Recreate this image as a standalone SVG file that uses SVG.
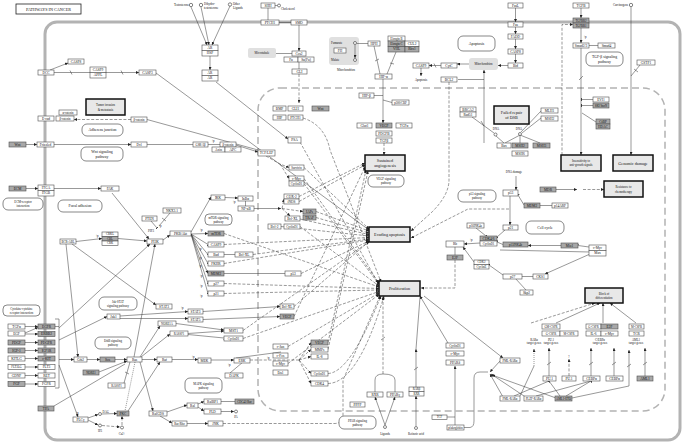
<svg xmlns="http://www.w3.org/2000/svg" width="685" height="444" viewBox="0 0 685 444">
<defs>
<style>
.b{fill:#fff;stroke:#4d4d4d;stroke-width:.6}
.d{fill:#a8a8a8;stroke:#4d4d4d;stroke-width:.6}
.pw{fill:#fff;stroke:#555;stroke-width:.7}
.ph{fill:#e8e8e8;stroke:#111;stroke-width:1.5}
.gy{fill:#e0e0e0;stroke:none}
.c{fill:#fff;stroke:#333;stroke-width:.6}
text{font-family:"Liberation Serif","Times New Roman",serif;fill:#111;text-anchor:middle;dominant-baseline:central}
.t{font-size:3.5px}
.s{font-size:3px}
.w{font-size:3.8px}
.p{font-size:4.2px}
.ls{text-anchor:start}
.le{text-anchor:end}
#edges path{fill:none;stroke:#333;stroke-width:.5}
#edges .ds{stroke-dasharray:3,1.6}
#edges .dt{stroke-dasharray:1,1}
</style>
<marker id="a" viewBox="0 0 6 6" refX="6" refY="3" markerWidth="3" markerHeight="3" markerUnits="userSpaceOnUse" orient="auto"><path d="M0,0L6,3L0,6z" fill="#222"/></marker>
<marker id="i" viewBox="0 0 2 8" refX="1" refY="4" markerWidth="0.8" markerHeight="3.5" markerUnits="userSpaceOnUse" orient="auto"><rect width="2" height="8" fill="#222"/></marker>
</defs>
<rect width="685" height="444" fill="#fff"/>
<rect x="45" y="22" width="635" height="418" rx="12" fill="none" stroke="#b3b3b3" stroke-width="3"/>
<rect x="258" y="88" width="407" height="323" rx="22" fill="none" stroke="#b3b3b3" stroke-width="1.5" stroke-dasharray="7,4"/>
<rect x="329" y="37" width="30" height="28" rx="3" class="gy"/>
<rect x="248" y="48" width="28" height="10" rx="2" class="gy"/>
<rect x="469" y="58" width="29" height="12" rx="3" class="gy"/>

<g id="edges">
<path d="M191,7L207,45" marker-end="url(#a)"/>
<path d="M201,7L209,45" marker-end="url(#a)"/>
<path d="M230,6L212,45" marker-end="url(#a)"/>
<path d="M210,56V70" marker-end="url(#a)"/>
<path d="M216,82L288,139" marker-end="url(#a)"/>
<path d="M268,8V20" marker-end="url(#i)"/>
<path d="M275,5.5H277.5"/>
<path d="M279,22.5H291" marker-end="url(#i)"/>
<path d="M299,25V51" marker-end="url(#a)"/>
<path d="M276,53.5H292" marker-end="url(#i)"/>
<path d="M299,62V69" marker-end="url(#i)"/>
<path class="ds" d="M299,74V103" marker-end="url(#a)"/>
<path d="M355,45V58" marker-end="url(#a)"/>
<path d="M357,43.5H368" marker-end="url(#i)"/>
<path d="M374,46L380,74"/><path d="M375,61L379,59"/>
<path d="M396,52L387,74"/><path d="M390,63L394,64"/>
<path d="M383,79V123" marker-end="url(#a)"/>
<path d="M374,95.5H383"/>
<path d="M392,102.5L383,100"/>
<path d="M421,68V76" marker-end="url(#a)"/>
<path d="M441,65.5H429" marker-end="url(#a)"/><path d="M434,63.5L436,67.5"/>
<path d="M469,64H457" marker-end="url(#a)"/>
<path d="M508,65.5H498" marker-end="url(#a)"/>
<path d="M484,79.5H458" marker-end="url(#i)"/>
<path d="M484,143V70" marker-end="url(#a)"/>
<path d="M515.5,8V22" marker-end="url(#a)"/>
<path d="M515.5,27V34" marker-end="url(#a)"/>
<path d="M515.5,39V49" marker-end="url(#a)"/>
<path d="M515.5,54V63" marker-end="url(#a)"/>
<path d="M581,8V18" marker-end="url(#a)"/>
<path d="M581,28V43" marker-end="url(#a)"/>
<path d="M598,45.5H589"/>
<path d="M581,48V155" marker-end="url(#a)"/><path d="M579,80L583,76"/>
<path d="M593,99.5H581.5" marker-end="url(#i)"/>
<path d="M593,105.5H581.5" marker-end="url(#i)"/>
<path d="M596,122L582,113"/>
<path d="M631,7V155" marker-end="url(#a)"/>
<path d="M640,65L631,76"/><path d="M634,69L638,72"/>
<path class="ds" d="M562,155V24.5H573" marker-end="url(#a)"/>
<path d="M50,70L68,63" marker-end="url(#a)"/>
<path d="M54,72.5H90"/><path d="M70,70.5L72,74.5"/><path d="M121,70.5L123,74.5"/>
<path d="M106,72.5H139" marker-end="url(#a)"/>
<path d="M156,73L369,230" marker-end="url(#a)"/>
<path d="M26,144.5H37" marker-end="url(#a)"/>
<path d="M54,144.5H131" marker-end="url(#a)"/>
<path d="M147,144.5H193" marker-end="url(#i)"/>
<path d="M208,144.5H220" marker-end="url(#i)"/>
<path d="M236,145L258,152" marker-end="url(#a)"/>
<path class="ds" d="M131,119.5H74" marker-end="url(#a)"/>
<path d="M147,119.5L258,150"/>
<path d="M26,188.5H38" marker-end="url(#a)"/>
<path d="M54,188.5H101" marker-end="url(#a)"/>
<path d="M112,193L149,239" marker-end="url(#a)"/>
<path d="M151,221L157,228" marker-end="url(#i)"/>
<path d="M170,213L159,226"/><path d="M162,218L166,221"/>
<path d="M163,240L170,235" marker-end="url(#a)"/>
<path d="M76,241.5L102,238.5" marker-end="url(#a)"/>
<path d="M118,238.5L147,241" marker-end="url(#a)"/>
<path d="M66,244L78,357" marker-end="url(#a)"/>
<path d="M72,244L156,305" marker-end="url(#a)"/>
<path d="M59,328L150,244" marker-end="url(#a)"/>
<path d="M134,357L155,244" marker-end="url(#a)"/>
<path d="M191,232L211,197" marker-end="url(#a)"/>
<path d="M225,197.5L238,198" marker-end="url(#a)"/>
<path d="M245.5,201V206" marker-end="url(#i)"/>
<path d="M254,208.5H281" marker-end="url(#a)"/>
<path d="M191,234L208,233.5" marker-end="url(#a)"/>
<path d="M191,234L208,244.5" marker-end="url(#i)"/>
<path d="M191,234L208,254.5" marker-end="url(#i)"/>
<path d="M191,234L208,263.5" marker-end="url(#i)"/>
<path d="M191,234L208,273.5" marker-end="url(#a)"/>
<path d="M191,234L208,283.5" marker-end="url(#i)"/>
<path d="M191,234L208,293.5" marker-end="url(#i)"/>
<path d="M224,254.5H235" marker-end="url(#i)"/>
<path d="M224,273.5H285" marker-end="url(#i)"/>
<path class="ds" d="M266,156L280,164L289,167.5" marker-end="url(#a)"/>
<path class="ds" d="M280,164L289,178.5" marker-end="url(#a)"/>
<path class="ds" d="M282,208.5L303,211.5" marker-end="url(#a)"/>
<path class="ds" d="M282,208.5L284,199" marker-end="url(#a)"/>
<path class="ds" d="M282,208.5L290,216" marker-end="url(#a)"/>
<path class="ds" d="M304,167.5L369,229" marker-end="url(#a)"/>
<path class="ds" d="M316,211.5L369,231" marker-end="url(#a)"/>
<path class="ds" d="M316,217.5L369,233" marker-end="url(#a)"/>
<path class="ds" d="M300,219L369,234.5" marker-end="url(#a)"/>
<path class="ds" d="M281,226.5L369,236" marker-end="url(#a)"/>
<path class="ds" d="M224,244.5L369,237.5" marker-end="url(#a)"/>
<path class="ds" d="M253,254.5L369,239" marker-end="url(#a)"/>
<path class="ds" d="M224,263.5L369,240" marker-end="url(#a)"/>
<path class="ds" d="M301,273.5L369,241" marker-end="url(#a)"/>
<path class="ds" d="M294,306.5L369,241.5" marker-end="url(#a)"/>
<path class="ds" d="M243,330.5L369,241.8" marker-end="url(#a)"/>
<path class="ds" d="M304,178.5L379,283" marker-end="url(#a)"/>
<path class="ds" d="M304,183.5L379,284.5" marker-end="url(#a)"/>
<path class="ds" d="M300,226.5L379,286" marker-end="url(#a)"/>
<path class="ds" d="M224,233.5L379,287" marker-end="url(#a)"/>
<path class="ds" d="M224,283.5L379,288.5" marker-end="url(#a)"/>
<path class="ds" d="M224,293.5L379,290" marker-end="url(#a)"/>
<path class="ds" d="M243,338.5L379,291.5" marker-end="url(#a)"/>
<path class="ds" d="M288,346.5L379,293" marker-end="url(#a)"/>
<path class="ds" d="M288,363.5L379,294.5" marker-end="url(#a)"/>
<path class="ds" d="M328,373.5Q350,373 381,296" marker-end="url(#a)"/>
<path class="ds" d="M328,383.5Q358,383 384,296" marker-end="url(#a)"/>
<path class="ds" d="M299,196.5L365,163" marker-end="url(#a)"/>
<path class="ds" d="M299,201.5L365,165" marker-end="url(#a)"/>
<path class="ds" d="M294,316.5L365,167" marker-end="url(#a)"/>
<path class="ds" d="M328,342.5L366,170" marker-end="url(#a)"/>
<path class="ds" d="M328,349.5L368,171" marker-end="url(#a)"/>
<path class="ds" d="M303,118Q325,125 330,150L381,282" marker-end="url(#a)"/>
<path class="ds" d="M300,142L378,283" marker-end="url(#a)"/>
<path class="ds" d="M384,143V155" marker-end="url(#a)"/>
<path class="ds" d="M449,82V180Q449,195 432,212L411,231" marker-end="url(#a)"/>
<path class="ds" d="M509,209H468L411,238" marker-end="url(#a)"/>
<path d="M472,117L494,133"/><path d="M481,121L484,126"/>
<path d="M520,135L505,143"/><path d="M520,135V143"/><path d="M520,135L540,143"/>
<path d="M541,111L521,132"/><path d="M541,118L522,133"/>
<path d="M496,136L504,143"/>
<path d="M516,176V190" marker-end="url(#a)"/>
<path d="M510,196V225" marker-end="url(#a)"/>
<path d="M552,205.5H540" marker-end="url(#i)"/>
<path d="M524,205L518,195" marker-end="url(#i)"/>
<path d="M556,189.5H577" marker-end="url(#a)"/>
<path class="ds" d="M583,189.5H604" marker-end="url(#a)"/>
<path d="M476,228L486,236" marker-end="url(#i)"/>
<path d="M505,230L497,237" marker-end="url(#i)"/>
<path d="M503,244.5L497,242" marker-end="url(#i)"/>
<path d="M480,243L464,244" marker-end="url(#a)"/>
<path d="M455,247V255" marker-end="url(#i)"/>
<path class="ds" d="M455,260V288H421" marker-end="url(#a)"/>
<path d="M474,262L463,247" marker-end="url(#a)"/>
<path d="M503,275L489,265" marker-end="url(#i)"/>
<path d="M533,276.5H522" marker-end="url(#i)"/>
<path d="M526,290L515,278" marker-end="url(#i)"/>
<path d="M561,245.5H528" marker-end="url(#a)"/>
<path d="M589,247L578,245.5" marker-end="url(#i)"/>
<path d="M590,254L545,274" marker-end="url(#a)"/>
<path d="M590,252L500,250"/>
<path class="ds" d="M531,323L595,303" marker-end="url(#a)"/>
<path d="M556,323L600,303" marker-end="url(#a)"/>
<path d="M603,323V303" marker-end="url(#a)"/>
<path d="M636,323L610,303" marker-end="url(#a)"/>
<path class="dt" d="M534,366V349" marker-end="url(#a)"/>
<path d="M549,376V348" marker-end="url(#a)"/><path d="M547,365L551,362"/>
<path class="ds" d="M569,376V359" marker-end="url(#a)"/>
<path d="M591,376V348" marker-end="url(#a)"/><path d="M589,365L593,362"/>
<path d="M614,376V348" marker-end="url(#a)"/><path d="M612,365L616,362"/>
<path d="M645,376V348" marker-end="url(#a)"/><path d="M643,365L647,362"/>
<path d="M572,398L629,386V350" marker-end="url(#a)"/><path d="M627,367L631,364"/>
<path d="M560,396L549,381" marker-end="url(#i)"/>
<path d="M566,396L591,381" marker-end="url(#i)"/>
<path d="M514,396L549,381" marker-end="url(#i)"/>
<path d="M536,396L591,381" marker-end="url(#i)"/>
<path d="M520,396L534,366"/>
<path d="M500,361L490,372" marker-end="url(#a)"/>
<path d="M503,397L490,374" marker-end="url(#a)"/>
<path d="M527,398L491,374" marker-end="url(#a)"/>
<path d="M556,398L492,375" marker-end="url(#a)"/>
<path d="M464,427.5H470Q474,427 474,421V378Q474,372 480,372H488"/>
<path d="M447,417H455"/>
<path d="M455,425V366" marker-end="url(#a)"/>
<path d="M448,343L420,296" marker-end="url(#a)"/>
<path d="M424,296L503,358" marker-end="url(#a)"/>
<path d="M385,425L375,397" marker-end="url(#a)"/>
<path d="M385,425L395,397" marker-end="url(#a)"/>
<path d="M375,392V380Q375,374 383,374Q395,374 395,380V392"/>
<path class="ds" d="M383,374V297" marker-end="url(#a)"/><path d="M381,340L385,337"/>
<path d="M416,426V396" marker-end="url(#a)"/>
<path d="M416,387V349" marker-end="url(#a)"/><path d="M414,370L418,367"/>
<path d="M416,349L420,297"/>
<path d="M59,326.5H55"/>
<path d="M25,326.5H38" marker-end="url(#a)"/>
<path d="M25,333L38,327.5" marker-end="url(#a)"/>
<path d="M25,334H38" marker-end="url(#a)"/>
<path d="M25,342.5H38" marker-end="url(#a)"/>
<path d="M25,350.5H38" marker-end="url(#a)"/>
<path d="M25,358.5H38" marker-end="url(#a)"/>
<path d="M25,367H38" marker-end="url(#a)"/>
<path d="M25,375.5H38" marker-end="url(#a)"/>
<path d="M25,384H38" marker-end="url(#a)"/>
<path d="M55,319H59V388H55" style="stroke:#555;stroke-width:.6"/>
<path d="M59,340L107,316.5" marker-end="url(#a)"/>
<path d="M120,318.5H188" marker-end="url(#a)"/>
<path d="M120,316L188,311.5" marker-end="url(#a)"/>
<path d="M203,311.5L280,306.5" marker-end="url(#a)"/>
<path d="M203,319.5L280,316.5" marker-end="url(#a)"/>
<path d="M59,359.5H74" marker-end="url(#a)"/>
<path d="M87,359.5H100" marker-end="url(#a)"/>
<path d="M115,359.5H127" marker-end="url(#a)"/>
<path d="M99,372L127,361" marker-end="url(#a)"/>
<path d="M142,359.5H157" marker-end="url(#a)"/>
<path d="M172,359.5H198" marker-end="url(#a)"/>
<path d="M211,360H234" marker-end="url(#a)"/>
<path class="ds" d="M250,360H299"/>
<path class="ds" d="M299,360L311,342.5" marker-end="url(#a)"/>
<path class="ds" d="M299,360L311,349.5" marker-end="url(#a)"/>
<path class="ds" d="M299,360L311,356.5" marker-end="url(#a)"/>
<path class="ds" d="M299,360L311,373.5" marker-end="url(#a)"/>
<path class="ds" d="M299,360L311,383.5" marker-end="url(#a)"/>
<path d="M236,358L281,352"/>
<path d="M230,373L243,362"/>
<path d="M140,357L160,326" marker-end="url(#a)"/>
<path d="M141,357L170,334" marker-end="url(#a)"/>
<path d="M176,323.5L224,330" marker-end="url(#a)"/>
<path d="M188,333.5L224,331" marker-end="url(#a)"/>
<path d="M188,334.5L224,338" marker-end="url(#i)"/>
<path d="M130,362L124,383"/><path d="M125,372L129,374"/>
<path d="M140,362L153,411" marker-end="url(#a)"/>
<path d="M167,412L187,405" marker-end="url(#a)"/>
<path d="M160,416L172,423" marker-end="url(#a)"/>
<path d="M198,404L204,401.5" marker-end="url(#a)"/>
<path d="M221,401.5H235" marker-end="url(#i)"/>
<path d="M198,407L204,411" marker-end="url(#a)"/>
<path d="M221,411.5L234,411.5" marker-end="url(#a)"/>
<path d="M187,423.5H208" marker-end="url(#a)"/>
<path class="ds" d="M223,423.5H335Q343,423 343,415V380L380,296" marker-end="url(#a)"/>
<path d="M59,365L78,417" marker-end="url(#a)"/>
<path d="M88,418L98,414.5" marker-end="url(#a)"/>
<path d="M88,420L98,425" marker-end="url(#a)"/>
<path d="M102,414L117,413.5" marker-end="url(#a)"/>
<path class="ds" d="M102,425.5L120,427" marker-end="url(#a)"/>
<path class="ds" d="M122,425V416" marker-end="url(#a)"/>
<path d="M128,411L160,362" marker-end="url(#a)"/>
<path class="dt" d="M135,362L125,411"/>
<path d="M54,406L125,364"/>
</g>

<g id="title"><rect x="16" y="4" width="65" height="10" fill="#fff" stroke="#222" stroke-width=".8"/><text class="p" x="48.5" y="9">PATHWAYS IN CANCER</text></g>

<g id="testosterone"><circle class="c" cx="191" cy="5" r="1.7"/><text class="s le" x="189" y="5">Testosterone</text></g>
<g id="dht"><circle class="c" cx="201" cy="5" r="1.7"/><text class="s ls" x="204" y="4">Dihydro-</text><text class="s ls" x="204" y="8">testosterone</text></g>
<g id="otherlig"><circle class="c" cx="230" cy="4.5" r="1.7"/><text class="s ls" x="233" y="4">Other</text><text class="s ls" x="233" y="8">Ligands</text></g>
<g id="ar_hsp"><rect class="b" x="202" y="45" width="16" height="5.5"/><rect class="b" x="202" y="50.5" width="16" height="5.5"/><text class="t" x="210" y="47.8">AR</text><text class="t" x="210" y="53.3">HSP</text></g>
<g id="ar_ar"><rect class="b" x="202" y="70" width="16" height="5.5"/><rect class="b" x="202" y="75.5" width="16" height="5.5"/><text class="t" x="210" y="72.8">AR</text><text class="t" x="210" y="78.3">AR</text></g>
<g id="psa"><rect class="b" x="288" y="137" width="13" height="6"/><text class="t" x="294.5" y="140">PSA</text></g>
<g id="shh"><rect class="b" x="261" y="3" width="14" height="5"/><text class="t" x="268" y="5.5">SHH</text></g>
<g id="cholesterol"><circle class="c" cx="279" cy="5.5" r="1.5"/><text class="s ls" x="281" y="8.5">Cholesterol</text></g>
<g id="ptch1"><rect class="b" x="261" y="20" width="18" height="5"/><text class="t" x="270" y="22.5">PTCH1</text></g>
<g id="smo"><rect class="b" x="291" y="20" width="16" height="5"/><text class="t" x="299" y="22.5">SMO</text></g>
<g id="microtubule"><text class="s" x="262" y="53">Microtubule</text></g>
<g id="cos2"><rect class="b" x="292" y="51" width="14" height="5"/><text class="t" x="299" y="53.5">Cos2</text></g>
<g id="fu"><rect class="b" x="284" y="57" width="14" height="5"/><text class="t" x="291" y="59.5">Fu</text><rect class="b" x="298" y="57" width="16" height="5"/><text class="t" x="306" y="59.5">Su(Fu)</text></g>
<g id="gli"><rect class="b" x="292" y="69" width="15" height="5"/><text class="t" x="299.5" y="71.5">GLI</text></g>
<g id="gli_targets"><rect class="b" x="273" y="106" width="13" height="5"/><text class="t" x="279.5" y="108.5">BMP</text><rect class="b" x="288" y="106" width="15" height="5"/><text class="t" x="295.5" y="108.5">GLI1</text><rect class="d" x="312" y="106" width="17" height="5"/><text class="t" x="320.5" y="108.5">Wnt</text><rect class="b" x="273" y="115" width="13" height="5"/><text class="t" x="279.5" y="117.5">HIP</text><rect class="b" x="288" y="115" width="15" height="5"/><text class="t" x="295.5" y="117.5">PTCH1</text></g>
<g id="fumarate"><circle class="c" cx="355" cy="43" r="1.5"/><text class="s ls" x="331" y="43">Fumarate</text><rect class="b" x="334" y="48" width="12" height="5"/><text class="t" x="340" y="50.5">FH</text><circle class="c" cx="355" cy="60" r="1.5"/><text class="s ls" x="331" y="60">Malate</text><text class="s" x="346" y="70">Mitochondrion</text></g>
<g id="hph"><rect class="b" x="368" y="41" width="12" height="5"/><text class="t" x="374" y="43.5">HPH</text></g>
<g id="vhl"><rect class="b" x="388" y="36" width="17" height="5"/><text class="s" x="396.5" y="38.5">Elongin B</text><rect class="d" x="388" y="41" width="17" height="5.5"/><text class="s" x="396.5" y="43.7">Elongin C</text><rect class="d" x="388" y="46.5" width="17" height="5.5"/><text class="t" x="396.5" y="49.2">VHL</text><rect class="b" x="405" y="41" width="14" height="5.5"/><text class="t" x="412" y="43.7">CUL2</text><rect class="d" x="405" y="46.5" width="14" height="5.5"/><text class="t" x="412" y="49.2">Rbx1</text></g>
<g id="hifa"><rect class="b" x="375" y="74" width="17" height="5"/><text class="t" x="383.5" y="76.5">HIF-α</text></g>
<g id="hifb"><rect class="b" x="359" y="93" width="15" height="5"/><text class="t" x="366.5" y="95.5">HIF-β</text></g>
<g id="p300"><rect class="b" x="392" y="100" width="17" height="5"/><text class="s" x="400.5" y="102.5">p300/CBP</text></g>
<g id="hif_targets"><rect class="b" x="357" y="123" width="15" height="5"/><text class="t" x="364.5" y="125.5">Glut1</text><rect class="d" x="376" y="123" width="16" height="5"/><text class="t" x="384" y="125.5">VEGF</text><rect class="b" x="396" y="123" width="16" height="5"/><text class="t" x="404" y="125.5">TGFα</text><rect class="b" x="376" y="131" width="16" height="5"/><text class="t" x="384" y="133.5">PDGFB</text><rect class="b" x="376" y="138" width="16" height="5"/><text class="t" x="384" y="140.5">TGFβ</text></g>
<g id="casp9_m"><rect class="b" x="413" y="63" width="16" height="5"/><text class="t" x="421" y="65.5">CASP9</text><text class="s" x="421" y="80">Apoptosis</text></g>
<g id="cytc"><rect class="b" x="441" y="63" width="16" height="5"/><text class="t" x="449" y="65.5">CytC</text></g>
<g id="mito"><text class="s" x="483.5" y="64">Mitochondrion</text></g>
<g id="apoptosis_pw"><rect class="pw" x="458" y="36" width="37" height="15" rx="5"/><text class="w" x="476.5" y="43.5">Apoptosis</text></g>
<g id="bcl2"><rect class="b" x="441" y="77" width="16" height="5"/><text class="t" x="449" y="79.5">BCL2</text></g>
<g id="fas_path"><rect class="b" x="508" y="3" width="15" height="5"/><text class="t" x="515.5" y="5.5">FasL</text><rect class="b" x="508" y="22" width="15" height="5"/><text class="t" x="515.5" y="24.5">Fas</text><rect class="b" x="508" y="34" width="15" height="5"/><text class="t" x="515.5" y="36.5">FADD</text><rect class="b" x="508" y="49" width="15" height="5"/><text class="t" x="515.5" y="51.5">CASP8</text><rect class="b" x="508" y="63" width="15" height="5"/><text class="t" x="515.5" y="65.5">Bid</text></g>
<g id="tgfb"><rect class="b" x="573" y="3" width="16" height="5"/><text class="t" x="581" y="5.5">TGFB</text><rect class="d" x="573" y="18" width="16" height="5"/><text class="s" x="581" y="20.5">TGFBR2</text><rect class="d" x="573" y="23" width="16" height="5"/><text class="s" x="581" y="25.5">TGFBR1</text><text class="s" x="585" y="37">+p</text></g>
<g id="smad"><rect class="b" x="573" y="43" width="16" height="5"/><text class="t" x="581" y="45.5">Smad2/3</text><rect class="b" x="598" y="43" width="17" height="5"/><text class="t" x="606.5" y="45.5">Smad4</text></g>
<g id="tgf_pw"><rect class="pw" x="586" y="52" width="37" height="14" rx="5"/><text class="w" x="604.5" y="57">TGF-β signaling</text><text class="w" x="604.5" y="61.5">pathway</text></g>
<g id="evi1"><rect class="b" x="593" y="97" width="16" height="5"/><text class="t" x="601" y="99.5">EVI1</text><rect class="d" x="593" y="103" width="16" height="5"/><text class="s" x="601" y="105.5">SKI/SnoN</text></g>
<g id="ctbp"><rect class="d" x="596" y="119" width="14" height="5"/><text class="t" x="603" y="121.5">CtBP</text><rect class="d" x="596" y="124" width="14" height="5"/><text class="t" x="603" y="126.5">HDAC</text></g>
<g id="carcinogens"><circle class="c" cx="631" cy="5" r="1.7"/><text class="s le" x="628" y="5">Carcinogens</text></g>
<g id="gstp1"><rect class="b" x="637" y="60" width="18" height="5"/><text class="t" x="646" y="62.5">GSTP1</text></g>
<g id="dcc"><rect class="b" x="38" y="70" width="16" height="5"/><text class="t" x="46" y="72.5">DCC</text></g>
<g id="casp8_l"><rect class="b" x="68" y="59" width="16" height="5"/><text class="t" x="76" y="61.5">CASP8</text></g>
<g id="casp9_appl"><rect class="b" x="90" y="67" width="16" height="5.5"/><text class="t" x="98" y="69.8">CASP9</text><rect class="b" x="90" y="72.5" width="16" height="5.5"/><text class="t" x="98" y="75.3">APPL</text></g>
<g id="casp3"><rect class="b" x="139" y="70" width="17" height="5"/><text class="t" x="147.5" y="72.5">CASP3</text></g>
<g id="tumor_inv"><rect class="ph" x="86" y="99" width="39" height="16"/><text class="s" x="105.5" y="105">Tumor invasion</text><text class="s" x="105.5" y="109.5">&amp; metastasis</text></g>
<g id="ecad"><rect class="b" x="38" y="116" width="16" height="5"/><text class="t" x="46" y="118.5">E-cad</text><rect class="b" x="59" y="110" width="18" height="5"/><text class="s" x="68" y="112.5">α-catenin</text><rect class="b" x="56" y="116" width="18" height="5"/><text class="s" x="65" y="118.5">β-catenin</text></g>
<g id="bcat_r"><rect class="b" x="131" y="117" width="16" height="5"/><text class="s" x="139" y="119.5">β-catenin</text></g>
<g id="adherens"><rect class="pw" x="82" y="124" width="41" height="12" rx="5"/><text class="w" x="102.5" y="130">Adherens junction</text></g>
<g id="wnt"><rect class="d" x="9" y="142" width="17" height="5"/><text class="t" x="17.5" y="144.5">Wnt</text></g>
<g id="frizzled"><rect class="b" x="37" y="142" width="17" height="5"/><text class="t" x="45.5" y="144.5">Frizzled</text></g>
<g id="dvl"><rect class="b" x="131" y="142" width="16" height="5"/><text class="t" x="139" y="144.5">Dvl</text></g>
<g id="wnt_pw"><rect class="pw" x="81" y="147" width="42" height="14" rx="5"/><text class="w" x="102" y="152">Wnt signaling</text><text class="w" x="102" y="156.5">pathway</text></g>
<g id="gsk"><rect class="b" x="193" y="142" width="15" height="5"/><text class="s" x="200.5" y="144.5">GSK-3β</text><text class="s" x="213" y="140.5">+p</text></g>
<g id="bcat_c"><rect class="b" x="220" y="142" width="16" height="5"/><text class="s" x="228" y="144.5">β-catenin</text><rect class="b" x="212" y="147" width="13" height="5"/><text class="t" x="218.5" y="149.5">Axin</text><rect class="b" x="225" y="147" width="16" height="5"/><text class="t" x="233" y="149.5">APC</text></g>
<g id="tcf_lef"><rect class="b" x="258" y="150" width="17" height="6"/><text class="t" x="266.5" y="153">TCF/LEF</text></g>
<g id="tcf_targets"><rect class="b" x="289" y="165" width="15" height="5"/><text class="s" x="296.5" y="167.5">Survivin</text><rect class="b" x="289" y="176" width="15" height="5"/><text class="t" x="296.5" y="178.5">c-Myc</text><rect class="b" x="289" y="181" width="15" height="5"/><text class="s" x="296.5" y="183.5">CyclinD1</text></g>
<g id="ecm"><rect class="d" x="9" y="186" width="17" height="5"/><text class="t" x="17.5" y="188.5">ECM</text></g>
<g id="itg"><rect class="b" x="38" y="185" width="16" height="5.5"/><text class="t" x="46" y="187.8">ITGA</text><rect class="b" x="38" y="190.5" width="16" height="5.5"/><text class="t" x="46" y="193.3">ITGB</text></g>
<g id="ecm_pw"><rect class="pw" x="3" y="198" width="40" height="12" rx="5"/><text class="s" x="23" y="202">ECM-receptor</text><text class="s" x="23" y="206">interaction</text></g>
<g id="fak"><rect class="b" x="101" y="186" width="18" height="5"/><text class="t" x="110" y="188.5">FAK</text></g>
<g id="focal_pw"><rect class="pw" x="58" y="200" width="44" height="12" rx="5"/><text class="w" x="80" y="206">Focal adhesion</text></g>
<g id="pten"><rect class="b" x="142" y="216" width="15" height="5"/><text class="t" x="149.5" y="218.5">PTEN</text></g>
<g id="nkx"><rect class="b" x="163" y="208" width="18" height="5"/><text class="t" x="172" y="210.5">NKX3.1</text></g>
<g id="pip3"><text class="s" x="151" y="231">PIP3</text><text class="s" x="160" y="226">+p</text></g>
<g id="pi3k"><rect class="b" x="147" y="239" width="16" height="5"/><text class="t" x="155" y="241.5">PI3K</text></g>
<g id="akt"><rect class="b" x="170" y="231" width="21" height="5"/><text class="t" x="180.5" y="233.5">PKB/Akt</text></g>
<g id="bcrabl"><rect class="b" x="60" y="239" width="16" height="5"/><text class="s" x="68" y="241.5">BCR-ABL</text></g>
<g id="crkl"><rect class="b" x="102" y="232" width="16" height="4.5"/><text class="s" x="110" y="234.3">CRKL</text><rect class="d" x="102" y="236.5" width="16" height="4.5"/><text class="s" x="110" y="238.8">CBL</text><rect class="b" x="102" y="241" width="16" height="4.5"/><text class="s" x="110" y="243.3">CRK</text><text class="s" x="97" y="236">+p</text></g>
<g id="ikk"><rect class="b" x="211" y="195" width="14" height="5"/><text class="t" x="218" y="197.5">IKK</text></g>
<g id="ikba"><rect class="b" x="238" y="196" width="15" height="5"/><text class="t" x="245.5" y="198.5">IκBα</text><text class="s" x="234" y="202">+p</text></g>
<g id="nfkb"><rect class="b" x="238" y="206" width="16" height="5"/><text class="t" x="246" y="208.5">NF-κB</text></g>
<g id="mtor_pw"><rect class="pw" x="205" y="214" width="27" height="11" rx="4"/><text class="s" x="218.5" y="217.8">mTOR signaling</text><text class="s" x="218.5" y="221.5">pathway</text></g>
<g id="nfkb_targets"><rect class="b" x="284" y="194" width="15" height="5"/><text class="t" x="291.5" y="196.5">COX-2</text><rect class="b" x="284" y="199" width="15" height="5"/><text class="t" x="291.5" y="201.5">iNOS</text><rect class="d" x="303" y="209" width="13" height="5"/><text class="t" x="309.5" y="211.5">IAPs</text><rect class="d" x="303" y="215" width="13" height="5"/><text class="t" x="309.5" y="217.5">TRAF</text><rect class="b" x="285" y="216" width="15" height="5"/><text class="t" x="292.5" y="218.5">Bcl-XL</text><rect class="b" x="268" y="224" width="13" height="5"/><text class="t" x="274.5" y="226.5">Bcl-2</text><rect class="b" x="284" y="224" width="16" height="5"/><text class="s" x="292" y="226.5">CyclinD1</text></g>
<g id="akt_targets"><rect class="d" x="208" y="231" width="16" height="5"/><text class="t" x="216" y="233.5">mTOR</text><rect class="b" x="208" y="242" width="16" height="5"/><text class="t" x="216" y="244.5">CASP9</text><rect class="b" x="208" y="252" width="16" height="5"/><text class="t" x="216" y="254.5">Bad</text><rect class="b" x="235" y="252" width="18" height="5"/><text class="t" x="244" y="254.5">Bcl-XL</text><rect class="b" x="208" y="261" width="16" height="5"/><text class="t" x="216" y="263.5">FKHR</text><rect class="d" x="208" y="271" width="16" height="5"/><text class="t" x="216" y="273.5">MDM2</text><rect class="b" x="285" y="271" width="16" height="5"/><text class="t" x="293" y="273.5">p53</text><rect class="b" x="208" y="281" width="16" height="5"/><text class="t" x="216" y="283.5">p27</text><rect class="b" x="208" y="291" width="16" height="5"/><text class="t" x="216" y="293.5">p21</text><text class="s" x="201" y="230">+p</text><text class="s" x="200" y="249">+p</text><text class="s" x="200" y="258">+p</text><text class="s" x="200" y="266">+p</text><text class="s" x="201" y="276">+p</text><text class="s" x="201" y="286">+p</text><text class="s" x="201" y="296">+p</text></g>
<g id="angio"><rect class="ph" x="365" y="155" width="40" height="16"/><text class="p" x="385" y="160.5">Sustained</text><text class="p" x="385" y="165.5">angiogenesis</text></g>
<g id="vegf_pw"><rect class="pw" x="368" y="175" width="36" height="12" rx="5"/><text class="s" x="386" y="179">VEGF signaling</text><text class="s" x="386" y="183">pathway</text></g>
<g id="evading"><rect class="ph" x="369" y="227" width="41" height="15"/><text class="p" x="389.5" y="234.5">Evading apoptosis</text></g>
<g id="prolif"><rect class="ph" x="379" y="281" width="41" height="15"/><text class="p" x="399.5" y="288.5">Proliferation</text></g>
<g id="brca"><rect class="b" x="460" y="107" width="16" height="5"/><text class="t" x="468" y="109.5">BRCA2</text><rect class="b" x="460" y="112" width="16" height="5"/><text class="t" x="468" y="114.5">Rad51</text></g>
<g id="failed"><rect class="ph" x="494" y="106" width="35" height="18"/><text class="p" x="511.5" y="112.5">Failed repair</text><text class="p" x="511.5" y="117.5">of DSB</text></g>
<g id="dna1"><text class="s" x="496" y="128.5">DNA</text><circle class="c" cx="495.5" cy="134.5" r="1.5"/></g>
<g id="dna2"><text class="s" x="519" y="128.5">DNA</text><circle class="c" cx="520" cy="134" r="1.5"/></g>
<g id="mmr"><rect class="b" x="541" y="108" width="17" height="5"/><text class="t" x="549.5" y="110.5">MLH1</text><rect class="b" x="541" y="116" width="17" height="5"/><text class="t" x="549.5" y="118.5">MSH2</text></g>
<g id="bax"><rect class="b" x="497" y="143" width="14" height="5"/><text class="t" x="504" y="145.5">Bax</text><rect class="d" x="512" y="143" width="16" height="5"/><text class="t" x="520" y="145.5">MSH2</text><rect class="d" x="533" y="143" width="17" height="5"/><text class="t" x="541.5" y="145.5">MSH3</text><rect class="b" x="512" y="151" width="16" height="5"/><text class="t" x="520" y="153.5">MSH6</text></g>
<g id="insens"><rect class="ph" x="561" y="155" width="40" height="16"/><text class="s" x="581" y="160.5">Insensitivity to</text><text class="s" x="581" y="165">anti-growth signals</text></g>
<g id="genomic"><rect class="ph" x="613" y="155" width="40" height="16"/><text class="p" x="633" y="163">Genomic damage</text></g>
<g id="dna_damage"><text class="s" x="514" y="172">DNA damage</text></g>
<g id="p53_pw"><rect class="pw" x="458" y="190" width="38" height="12" rx="5"/><text class="s" x="477" y="194">p53 signaling</text><text class="s" x="477" y="198">pathway</text></g>
<g id="p53_r"><rect class="b" x="503" y="190" width="15" height="6"/><text class="t" x="510.5" y="193">p53</text></g>
<g id="p21_r"><rect class="b" x="503" y="225" width="15" height="5"/><text class="t" x="510.5" y="227.5">p21</text></g>
<g id="mdr"><rect class="d" x="540" y="187" width="16" height="5"/><text class="t" x="548" y="189.5">MDR</text></g>
<g id="resist"><rect class="ph" x="604" y="181" width="39" height="16"/><text class="s" x="623.5" y="187">Resistance to</text><text class="s" x="623.5" y="191.5">chemotherapy</text></g>
<g id="mdm2_r"><rect class="d" x="524" y="203" width="16" height="5"/><text class="t" x="532" y="205.5">MDM2</text><rect class="b" x="552" y="203" width="16" height="5"/><text class="t" x="560" y="205.5">p14ARF</text></g>
<g id="cellcycle"><rect class="pw" x="526" y="221" width="38" height="13" rx="5"/><text class="w" x="545" y="227.5">Cell cycle</text></g>
<g id="p16"><rect class="b" x="467" y="223" width="17" height="5"/><text class="s" x="475.5" y="225.5">p16INK4a</text></g>
<g id="cdk46"><rect class="d" x="480" y="236" width="17" height="5"/><text class="t" x="488.5" y="238.5">CDK4/6</text><rect class="b" x="480" y="241" width="17" height="5"/><text class="s" x="488.5" y="243.5">CyclinD1</text><text class="s" x="471" y="240">+p</text></g>
<g id="rb"><rect class="b" x="446" y="241" width="18" height="6"/><text class="t" x="455" y="244">Rb</text></g>
<g id="e2f"><rect class="d" x="447" y="255" width="16" height="5"/><text class="t" x="455" y="257.5">E2F</text></g>
<g id="cdk2"><rect class="b" x="474" y="260" width="15" height="4.5"/><text class="s" x="481.5" y="262.3">CDK2</text><rect class="b" x="474" y="264.5" width="15" height="4.5"/><text class="s" x="481.5" y="266.8">CyclinE</text></g>
<g id="p15"><rect class="d" x="503" y="242" width="25" height="5"/><text class="s" x="515.5" y="244.5">p15INK4b</text></g>
<g id="miz1"><rect class="d" x="561" y="243" width="17" height="5"/><text class="t" x="569.5" y="245.5">Miz1</text></g>
<g id="cmyc_max"><rect class="b" x="589" y="245" width="17" height="5.5"/><text class="t" x="597.5" y="247.8">c-Myc</text><rect class="b" x="589" y="250.5" width="17" height="5.5"/><text class="t" x="597.5" y="253.3">Max</text></g>
<g id="p27_r"><rect class="b" x="503" y="274" width="19" height="5"/><text class="t" x="512.5" y="276.5">p27</text></g>
<g id="cks1"><rect class="b" x="533" y="274" width="15" height="5"/><text class="t" x="540.5" y="276.5">CKS1</text></g>
<g id="skp2"><rect class="b" x="520" y="290" width="13" height="5"/><text class="t" x="526.5" y="292.5">Skp2</text></g>
<g id="block"><rect class="ph" x="585" y="288" width="38" height="15"/><text class="s" x="604" y="293.5">Block of</text><text class="s" x="604" y="298">differentiation</text></g>
<g id="pu1_targets"><rect class="b" x="542" y="324" width="18" height="5"/><text class="s" x="551" y="326.5">GM-CSFR</text><rect class="b" x="542" y="331" width="18" height="5"/><text class="s" x="551" y="333.5">G-CSFR</text><rect class="b" x="560" y="331" width="18" height="5"/><text class="s" x="569" y="333.5">M-CSFR</text><text class="s" x="551" y="339.5">PU.1</text><text class="s" x="551" y="343">target genes</text></g>
<g id="rara_targets"><text class="s" x="534" y="339.5">RARα</text><text class="s" x="534" y="343">target genes</text></g>
<g id="cebpa_targets"><rect class="b" x="586" y="324" width="15" height="5"/><text class="s" x="593.5" y="326.5">G-CSFR</text><rect class="d" x="601" y="324" width="17" height="5"/><text class="t" x="609.5" y="326.5">E2F</text><rect class="b" x="586" y="331" width="15" height="5"/><text class="t" x="593.5" y="333.5">IL-6</text><rect class="b" x="601" y="331" width="17" height="5"/><text class="t" x="609.5" y="333.5">c-Myc</text><text class="s" x="600" y="339.5">C/EBPα</text><text class="s" x="600" y="343">target genes</text></g>
<g id="aml1_targets"><rect class="b" x="629" y="324" width="15" height="5"/><text class="s" x="636.5" y="326.5">M-CSFR</text><rect class="b" x="629" y="331" width="15" height="5"/><text class="t" x="636.5" y="333.5">TCR</text><text class="s" x="636" y="339.5">AML1</text><text class="s" x="636" y="343">target genes</text></g>
<g id="tf_row"><text class="s" x="569" y="356.5">?</text><rect class="b" x="543" y="376" width="13" height="5"/><text class="t" x="549.5" y="378.5">PU.1</text><rect class="b" x="562" y="376" width="14" height="5"/><text class="t" x="569" y="378.5">PU.1</text><rect class="b" x="583" y="376" width="17" height="5"/><text class="t" x="591.5" y="378.5">CEBPα</text><rect class="b" x="606" y="376" width="17" height="5"/><text class="t" x="614.5" y="378.5">CEBPα</text><rect class="d" x="637" y="376" width="16" height="5"/><text class="t" x="645" y="378.5">AML1</text></g>
<g id="fusions"><rect class="b" x="500" y="358" width="20" height="5"/><text class="s" x="510" y="360.5">PML-RARα</text><rect class="b" x="500" y="396" width="20" height="5"/><text class="s" x="510" y="398.5">PML-RARα</text><rect class="b" x="524" y="396" width="19" height="5"/><text class="s" x="533.5" y="398.5">PLZF-RARα</text><rect class="d" x="555" y="396" width="17" height="5"/><text class="s" x="563.5" y="398.5">AML1-ETO</text></g>
<g id="cyc_column"><rect class="b" x="446" y="343" width="18" height="5"/><text class="s" x="455" y="345.5">CyclinD1</text><rect class="b" x="446" y="351" width="18" height="5"/><text class="t" x="455" y="353.5">c-Myc</text><rect class="b" x="446" y="360" width="18" height="5"/><text class="t" x="455" y="362.5">PPARδ</text></g>
<g id="tcf"><rect class="b" x="432" y="415" width="15" height="4.5"/><text class="s" x="439.5" y="417.3">TCF</text></g>
<g id="plakoglobin"><rect class="b" x="447" y="425" width="17" height="5"/><text class="s" x="455.5" y="427.5">plakoglobin</text></g>
<g id="rxr_ppar"><rect class="b" x="367" y="392" width="16" height="5"/><text class="t" x="375" y="394.5">RXR</text><rect class="b" x="387" y="392" width="16" height="5"/><text class="t" x="395" y="394.5">PPARγ</text></g>
<g id="ppfp"><rect class="b" x="350" y="402" width="15" height="5"/><text class="t" x="357.5" y="404.5">PPFP</text></g>
<g id="ligands"><circle class="c" cx="385" cy="427" r="1.5"/><text class="s" x="385" y="433.5">Ligands</text></g>
<g id="rar_rxr"><rect class="b" x="409" y="387" width="15" height="4.5"/><text class="s" x="416.5" y="389.3">RARβ</text><rect class="b" x="409" y="391.5" width="15" height="4.5"/><text class="s" x="416.5" y="393.8">RXR</text></g>
<g id="retinoic"><circle class="c" cx="416" cy="428" r="1.5"/><text class="s" x="416" y="433.5">Retinoic acid</text></g>
<g id="ppar_pw"><rect class="pw" x="339" y="416" width="37" height="13" rx="5"/><text class="s" x="357.5" y="420.5">PPAR signaling</text><text class="s" x="357.5" y="424.5">pathway</text></g>
<g id="cytokine_pw"><rect class="pw" x="3" y="305" width="37" height="11" rx="4"/><text class="s" x="21.5" y="308.8">Cytokine-cytokine</text><text class="s" x="21.5" y="312.5">receptor interaction</text></g>
<g id="ligands_l"><rect class="b" x="8" y="324" width="17" height="5"/><text class="t" x="16.5" y="326.5">TGFα</text><rect class="b" x="8" y="331" width="17" height="5"/><text class="t" x="16.5" y="333.5">EGF</text><rect class="d" x="8" y="340" width="17" height="5"/><text class="t" x="16.5" y="342.5">PDGF</text><rect class="d" x="8" y="348" width="17" height="5"/><text class="t" x="16.5" y="350.5">IGF-1</text><rect class="b" x="8" y="356" width="17" height="5"/><text class="t" x="16.5" y="358.5">KITLG</text><rect class="b" x="8" y="364.5" width="17" height="5"/><text class="s" x="16.5" y="367">FLT3LG</text><rect class="b" x="8" y="373" width="17" height="5"/><text class="t" x="16.5" y="375.5">GDNF</text><rect class="d" x="8" y="381.5" width="17" height="5"/><text class="t" x="16.5" y="384">FGF</text></g>
<g id="receptors"><rect class="d" x="38" y="324" width="17" height="5"/><text class="t" x="46.5" y="326.5">EGFR</text><rect class="d" x="38" y="331.5" width="17" height="5"/><text class="t" x="46.5" y="334">ERBB2</text><rect class="d" x="38" y="340" width="17" height="5"/><text class="t" x="46.5" y="342.5">PDGFR</text><rect class="d" x="38" y="348" width="17" height="5"/><text class="t" x="46.5" y="350.5">IGF1R</text><rect class="d" x="38" y="356" width="17" height="5"/><text class="t" x="46.5" y="358.5">c-KIT</text><rect class="b" x="38" y="364.5" width="17" height="5"/><text class="t" x="46.5" y="367">FLT3</text><rect class="b" x="38" y="373" width="17" height="5"/><text class="t" x="46.5" y="375.5">RET</text><rect class="b" x="38" y="381.5" width="17" height="5"/><text class="t" x="46.5" y="384">FGFR</text></g>
<g id="jak_pw"><rect class="pw" x="99" y="297" width="38" height="13" rx="5"/><text class="s" x="118" y="301.5">Jak-STAT</text><text class="s" x="118" y="305.5">signaling pathway</text></g>
<g id="jak1"><rect class="b" x="107" y="314" width="13" height="5"/><text class="t" x="113.5" y="316.5">Jak1</text></g>
<g id="stat"><rect class="b" x="156" y="304" width="16" height="5"/><text class="t" x="164" y="306.5">STAT3</text><rect class="b" x="188" y="309" width="15" height="5"/><text class="t" x="195.5" y="311.5">STAT3</text><rect class="b" x="188" y="317" width="15" height="5"/><text class="t" x="195.5" y="319.5">STAT5</text><text class="s" x="182" y="308">+p</text></g>
<g id="stat_targets"><rect class="b" x="280" y="304" width="14" height="5"/><text class="t" x="287" y="306.5">Bcl-XL</text><rect class="d" x="280" y="314" width="14" height="5"/><text class="t" x="287" y="316.5">VEGF</text></g>
<g id="erbb_pw"><rect class="pw" x="95" y="337" width="36" height="12" rx="5"/><text class="s" x="113" y="341">ErbB signaling</text><text class="s" x="113" y="345">pathway</text></g>
<g id="nore1"><rect class="b" x="158" y="321" width="18" height="5"/><text class="s" x="167" y="323.5">NORE1A</text><rect class="b" x="170" y="331" width="18" height="5"/><text class="s" x="179" y="333.5">RASSF1</text></g>
<g id="mst1"><rect class="b" x="224" y="328" width="19" height="5"/><text class="t" x="233.5" y="330.5">MST1</text><rect class="b" x="224" y="336" width="19" height="5"/><text class="s" x="233.5" y="338.5">CyclinD1</text></g>
<g id="grb2"><rect class="b" x="74" y="357" width="13" height="5"/><text class="t" x="80.5" y="359.5">Grb2</text></g>
<g id="sos"><rect class="d" x="100" y="357" width="15" height="5"/><text class="t" x="107.5" y="359.5">Sos</text></g>
<g id="ras"><rect class="b" x="127" y="357" width="15" height="5"/><text class="t" x="134.5" y="359.5">Ras</text></g>
<g id="raf"><rect class="b" x="157" y="357" width="15" height="5"/><text class="t" x="164.5" y="359.5">Raf</text></g>
<g id="nf1"><rect class="d" x="83" y="370" width="16" height="5"/><text class="s" x="91" y="372.5">NORE1</text></g>
<g id="rassf_b"><rect class="b" x="108" y="383" width="17" height="5"/><text class="s" x="116.5" y="385.5">RASSF1</text></g>
<g id="mek"><rect class="b" x="198" y="358" width="13" height="5"/><text class="t" x="204.5" y="360.5">MEK</text><text class="s" x="193" y="356.5">+p</text></g>
<g id="erk"><rect class="b" x="234" y="358" width="16" height="5"/><text class="t" x="242" y="360.5">ERK</text><text class="s" x="229" y="364.5">+p</text></g>
<g id="dapk"><rect class="b" x="225" y="373" width="18" height="5"/><text class="t" x="234" y="375.5">DAPK</text></g>
<g id="mapk_pw"><rect class="pw" x="185" y="378" width="37" height="15" rx="5"/><text class="s" x="203.5" y="383.5">MAPK signaling</text><text class="s" x="203.5" y="387.5">pathway</text></g>
<g id="ap1"><rect class="b" x="273" y="344" width="15" height="5"/><text class="t" x="280.5" y="346.5">c-Jun</text><rect class="b" x="273" y="353" width="15" height="5"/><text class="t" x="280.5" y="355.5">c-Fos</text><rect class="b" x="273" y="361" width="15" height="5"/><text class="t" x="280.5" y="363.5">c-Myc</text><rect class="b" x="273" y="370" width="15" height="5"/><text class="t" x="280.5" y="372.5">Ets1</text><text class="s" x="268" y="358">+p</text></g>
<g id="erk_targets"><rect class="d" x="311" y="340" width="17" height="5"/><text class="t" x="319.5" y="342.5">VEGF</text><rect class="b" x="311" y="347" width="17" height="5"/><text class="t" x="319.5" y="349.5">MMPs</text><rect class="b" x="311" y="354" width="17" height="5"/><text class="t" x="319.5" y="356.5">IL-8</text><rect class="b" x="311" y="371" width="17" height="5"/><text class="s" x="319.5" y="373.5">CyclinD1</text><rect class="b" x="311" y="381" width="17" height="5"/><text class="t" x="319.5" y="383.5">CDK4</text></g>
<g id="ral"><rect class="b" x="149" y="411" width="18" height="5"/><text class="t" x="158" y="413.5">RalGDS</text><rect class="b" x="187" y="403" width="11" height="5"/><text class="t" x="192.5" y="405.5">Ral</text><rect class="b" x="204" y="399" width="17" height="5"/><text class="t" x="212.5" y="401.5">RalBP1</text><rect class="d" x="235" y="399" width="19" height="5"/><text class="s" x="244.5" y="401.5">CDC42/Rac</text><rect class="b" x="204" y="409" width="17" height="5"/><text class="t" x="212.5" y="411.5">PLD</text><circle class="c" cx="236" cy="411.5" r="1.5"/><text class="s" x="236" y="416.5">PA</text></g>
<g id="rac_jnk"><rect class="b" x="172" y="421" width="15" height="5"/><text class="s" x="179.5" y="423.5">Rac/Rho</text><rect class="b" x="208" y="421" width="15" height="5"/><text class="t" x="215.5" y="423.5">JNK</text></g>
<g id="tpa"><rect class="d" x="38" y="406" width="16" height="5"/><text class="t" x="46" y="408.5">TPA</text></g>
<g id="plcg"><rect class="b" x="73" y="417" width="15" height="5"/><text class="t" x="80.5" y="419.5">PLCγ</text><text class="s" x="77" y="413">+p</text></g>
<g id="dag"><circle class="c" cx="100" cy="414" r="1.5"/><text class="s ls" x="102.5" y="411.5">DAG</text></g>
<g id="ip3"><circle class="c" cx="100" cy="425.5" r="1.5"/><text class="s" x="100" y="431">IP3</text></g>
<g id="pkc"><rect class="d" x="117" y="411" width="12" height="5"/><text class="t" x="123" y="413.5">PKC</text></g>
<g id="ca"><circle class="c" cx="122" cy="427.5" r="1.5"/><text class="s" x="122" y="433.5">Ca2+</text></g>
</svg>
